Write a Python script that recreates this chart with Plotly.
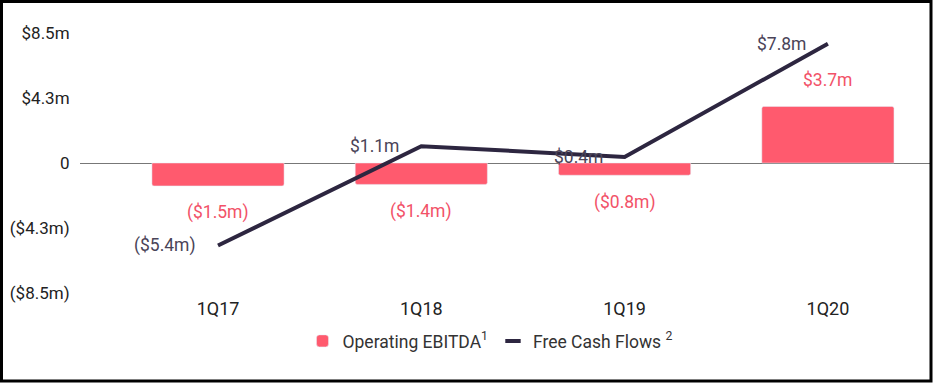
import plotly.graph_objects as go

quarters = ["1Q17", "1Q18", "1Q19", "1Q20"]
ebitda = [-1.5, -1.4, -0.8, 3.7]
ebitda_labels = ["($1.5m)", "($1.4m)", "($0.8m)", "$3.7m"]
fcf = [-5.4, 1.1, 0.4, 7.8]
fcf_labels = ["($5.4m)", "$1.1m", "$0.4m", "$7.8m"]
ytick_vals = [8.5, 4.25, 0, -4.25, -8.5]
ytick_text = ["$8.5m", "$4.3m", "0", "($4.3m)", "($8.5m)"]

PINK = "#FF5A6E"
NAVY = "#2D2640"
FONT = "Roboto"

xs = list(range(len(quarters)))

fig = go.Figure()
fig.add_trace(go.Bar(
    x=xs, y=ebitda, width=0.65, marker=dict(color=PINK, cornerradius=2),
    name="Operating EBITDA<sup>1</sup>", hoverinfo="skip",
))
fig.add_trace(go.Scatter(
    x=xs, y=fcf, mode="lines", line=dict(color=NAVY, width=4),
    name="Free Cash Flows <sup>2</sup>", hoverinfo="skip", showlegend=False,
))
# legend entry with a short dash, as in the reference
fig.add_trace(go.Scatter(
    x=[None], y=[None], mode="markers",
    marker=dict(symbol="line-ew-open", size=11, color=NAVY, line=dict(color=NAVY, width=4)),
    name="Free Cash Flows <sup>2</sup>", hoverinfo="skip",
))

annotations = []
for x, v, t in zip(xs, ebitda, ebitda_labels):
    annotations.append(dict(
        x=x, y=v, text=t, showarrow=False, xref="x", yref="y",
        yshift=(26 if v > 0 else -27),
        font=dict(family=FONT, size=17.5, color="#F25268"),
    ))
for x, v, t in zip(xs, fcf, fcf_labels):
    annotations.append(dict(
        x=x, y=v, text=t, showarrow=False, xref="x", yref="y",
        xanchor="right", xshift=-20,
        font=dict(family=FONT, size=17.5, color="#4A4458"),
    ))

W, H = 933, 383
ML, MR, MT, MB = 80, 3, 30, 87
pw = W - ML - MR
ph = H - MT - MB

def px_x(p):
    return (p - ML) / pw

def px_y(p):
    return (H - MB - p) / ph

fig.update_layout(
    width=W, height=H,
    margin=dict(l=ML, r=MR, t=MT, b=MB),
    paper_bgcolor="white", plot_bgcolor="white",
    font=dict(family=FONT, size=17, color="#222222"),
    showlegend=True,
    legend=dict(
        orientation="h", x=px_x(490), xanchor="center", y=px_y(341), yanchor="middle",
        font=dict(family=FONT, size=17.5, color="#333333"),
        itemwidth=30, tracegroupgap=0, bgcolor="rgba(0,0,0,0)",
    ),
    xaxis=dict(
        range=[(80 - 218) / 203.3, (930 - 218) / 203.3],
        tickvals=xs, ticktext=quarters, showgrid=False, zeroline=False,
        showline=False, ticks="", ticklen=0,
        tickfont=dict(family=FONT, size=18, color="#222222"),
    ),
    yaxis=dict(
        range=[-8.7, 8.7], tickvals=ytick_vals, ticktext=ytick_text,
        showgrid=False, zeroline=True, zerolinecolor="#777777", zerolinewidth=1,
        showline=False, ticks="outside", ticklen=6, tickcolor="rgba(0,0,0,0)",
        tickfont=dict(family=FONT, size=17, color="#222222"),
    ),
    annotations=annotations,
    shapes=[dict(
        type="rect", xref="paper", yref="paper",
        x0=px_x(1.5), x1=px_x(931), y0=px_y(381), y1=px_y(1.5),
        line=dict(color="black", width=3), fillcolor="rgba(0,0,0,0)", layer="above",
    )],
)

fig.write_html(
    "out.html",
    config={"displayModeBar": False},
    post_script="document.body.style.margin='0';document.body.style.overflow='hidden';",
)
